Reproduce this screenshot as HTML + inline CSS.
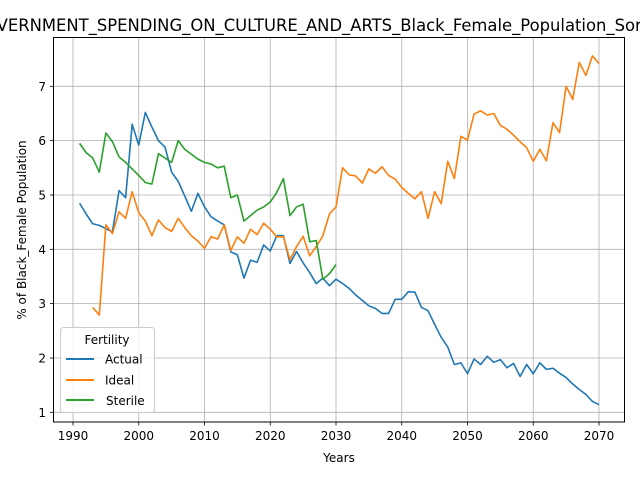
<!DOCTYPE html>
<html><head><meta charset="utf-8"><style>
body{margin:0;background:#fff;}
svg text{font-family:"DejaVu Sans","Liberation Sans",sans-serif;}
</style></head><body>
<svg id="chart" width="640" height="480" xmlns="http://www.w3.org/2000/svg">
<rect width="640" height="480" fill="#fff"/>
<text x="320" y="31" text-anchor="middle" font-size="16.4">GOVERNMENT_SPENDING_ON_CULTURE_AND_ARTS_Black_Female_Population_Sorted</text>
<g id="grid"></g>
<g id="series"></g>
<rect x="53.5" y="37.5" width="571" height="384.5" fill="none" stroke="#000" stroke-width="1"/>
<g id="ticks"></g>
<text x="339" y="462" text-anchor="middle" font-size="12">Years</text>
<text transform="translate(26,230) rotate(-90)" text-anchor="middle" font-size="12">% of Black_Female Population</text>
<g>
<rect x="60.5" y="327.5" width="94" height="85" rx="3" fill="#fff" fill-opacity="0.8" stroke="#ccc"/>
<text x="107" y="344" text-anchor="middle" font-size="12">Fertility</text>
<line x1="66" y1="359" x2="94" y2="359" stroke="#1f77b4" stroke-width="2"/>
<text x="105" y="363.5" font-size="12">Actual</text>
<line x1="66" y1="380" x2="94" y2="380" stroke="#ff7f0e" stroke-width="2"/>
<text x="105" y="384.5" font-size="12">Ideal</text>
<line x1="66" y1="400" x2="94" y2="400" stroke="#2ca02c" stroke-width="2"/>
<text x="106" y="405" font-size="12">Sterile</text>
</g>
</svg>
<script>
const actualStart = 1991;
const actualValues = [4.85,4.65,4.47,4.44,4.38,4.32,5.08,4.95,6.30,5.92,6.52,6.25,6.00,5.88,5.42,5.25,4.98,4.70,5.03,4.78,4.60,4.52,4.45,3.95,3.90,3.47,3.80,3.76,4.08,3.97,4.25,4.25,3.74,3.96,3.75,3.57,3.37,3.47,3.33,3.45,3.37,3.28,3.16,3.06,2.96,2.91,2.82,2.82,3.08,3.08,3.22,3.21,2.93,2.87,2.62,2.38,2.20,1.88,1.91,1.71,1.98,1.88,2.03,1.92,1.97,1.82,1.90,1.66,1.88,1.71,1.91,1.79,1.81,1.72,1.64,1.52,1.42,1.33,1.20,1.14];
const idealStart = 1993;
const idealValues = [2.93,2.79,4.45,4.29,4.69,4.57,5.06,4.67,4.52,4.25,4.54,4.40,4.33,4.57,4.40,4.25,4.15,4.02,4.23,4.19,4.45,3.98,4.23,4.11,4.37,4.27,4.48,4.37,4.23,4.23,3.81,4.05,4.24,3.88,4.05,4.25,4.65,4.78,5.50,5.37,5.35,5.22,5.48,5.40,5.52,5.36,5.29,5.14,5.03,4.93,5.06,4.57,5.06,4.84,5.62,5.30,6.08,6.01,6.49,6.55,6.47,6.50,6.28,6.21,6.10,5.98,5.87,5.62,5.84,5.63,6.33,6.15,7.00,6.76,7.44,7.20,7.56,7.42];
const sterileStart = 1991;
const sterileValues = [5.95,5.78,5.68,5.42,6.14,5.98,5.70,5.60,5.48,5.36,5.23,5.20,5.76,5.68,5.60,6.00,5.84,5.75,5.66,5.60,5.57,5.50,5.53,4.95,5.00,4.52,4.62,4.72,4.78,4.87,5.05,5.30,4.62,4.78,4.83,4.14,4.16,3.45,3.55,3.72];
const xTicks = [1990,2000,2010,2020,2030,2040,2050,2060,2070];
const yTicks = [1,2,3,4,5,6,7];

const NS = "http://www.w3.org/2000/svg";
function xs(yr){ return 73 + (yr-1990)*6.575; }
function ys(v){ return 412.3 - (v-1)*54.33; }
const grid = document.getElementById('grid');
const ticks = document.getElementById('ticks');
function mk(tag, attrs, parent){ const e=document.createElementNS(NS,tag); for(const k in attrs) e.setAttribute(k,attrs[k]); parent.appendChild(e); return e; }
xTicks.forEach(t=>{
  const x=xs(t);
  const g=mk('line',{x1:x,x2:x,y1:37.5,y2:422,stroke:'#b0b0b0','stroke-width':0.8},grid);
  
  
  mk('line',{x1:x,x2:x,y1:422,y2:425.5,stroke:'#000','stroke-width':0.8},ticks);
  const tx=mk('text',{x:x,y:440,'text-anchor':'middle','font-size':12},ticks);
  tx.textContent=t;
  
  
});
yTicks.forEach(t=>{
  const y=ys(t);
  const g=mk('line',{x1:53.5,x2:624.5,y1:y,y2:y,stroke:'#b0b0b0','stroke-width':0.8},grid);
  
  
  mk('line',{x1:50,x2:53.5,y1:y,y2:y,stroke:'#000','stroke-width':0.8},ticks);
  const tx=mk('text',{x:46,y:y+4.5,'text-anchor':'end','font-size':12},ticks);
  tx.textContent=t;
  
  
});
const series=document.getElementById('series');
function drawLine(start, vals, color, name){
  const pts=vals.map((v,i)=>xs(start+i).toFixed(2)+','+ys(v).toFixed(2)).join(' ');
  const p=mk('polyline',{points:pts,fill:'none',stroke:color,'stroke-width':1.6,'stroke-linejoin':'round'},series);
  
  
}
drawLine(actualStart, actualValues, '#1f77b4', 'actual-line');
drawLine(idealStart, idealValues, '#ff7f0e', 'ideal-line');
drawLine(sterileStart, sterileValues, '#2ca02c', 'sterile-line');
</script>
</body></html>
